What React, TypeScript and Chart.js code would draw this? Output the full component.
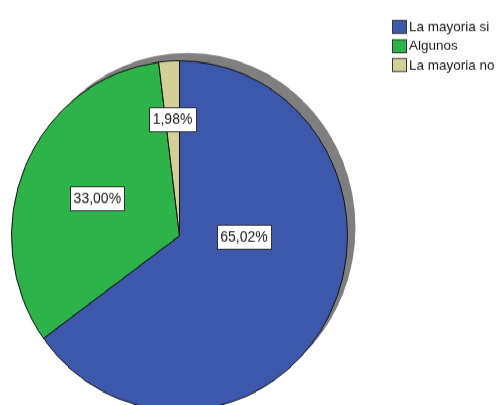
import { useEffect, useRef } from "react";
import { Chart, registerables } from "chart.js";

Chart.register(...registerables);

const categories = ["La mayoria si", "Algunos", "La mayoria no"];
const percentages = [65.02, 33.0, 1.98];
const sliceColors = ["#3d58ab", "#2db34a", "#d4ce97"];
// label placement: angle shift (deg) from slice middle, radius fraction
const labelAngleShift = [-26, 0, 0];
const labelRadius = [0.384, 0.533, 0.668];

const W = 499;
const H = 389;
const STRETCH = 405 / H;
const FONT = '"Liberation Sans", Arial, sans-serif';

export default function App() {
  const ref = useRef<HTMLCanvasElement>(null);

  useEffect(() => {
    if (!ref.current) return;

    const shadowPlugin = {
      id: "pieShadow",
      beforeDatasetsDraw(chart: any) {
        const arc = chart.getDatasetMeta(0).data[0];
        if (!arc) return;
        const { x, y, outerRadius } = arc.getProps(["x", "y", "outerRadius"], true);
        const ctx = chart.ctx;
        ctx.save();
        ctx.fillStyle = "#7f7f7f";
        ctx.filter = "blur(0.7px)";
        ctx.beginPath();
        ctx.arc(x + 8, y - 7.7, outerRadius, 0, Math.PI * 2);
        ctx.fill();
        ctx.restore();
      },
    };

    const labelPlugin = {
      id: "pieLabels",
      afterDatasetsDraw(chart: any) {
        const ctx = chart.ctx;
        const meta = chart.getDatasetMeta(0);
        ctx.save();
        ctx.font = `14px ${FONT}`;
        ctx.textAlign = "center";
        ctx.textBaseline = "middle";
        meta.data.forEach((arc: any, i: number) => {
          const { x, y, startAngle, endAngle, outerRadius } = arc.getProps(
            ["x", "y", "startAngle", "endAngle", "outerRadius"],
            true
          );
          const mid = (startAngle + endAngle) / 2 + (labelAngleShift[i] * Math.PI) / 180;
          const r = outerRadius * labelRadius[i];
          const lx = x + Math.cos(mid) * r;
          const ly = y + Math.sin(mid) * r;
          const text = percentages[i].toFixed(2).replace(".", ",") + "%";
          const tw = ctx.measureText(text).width;
          const bw = Math.round(tw + 7);
          const bh = 23;
          const bx = Math.round(lx - bw / 2) + 0.5;
          const by = Math.round(ly - bh / 2) + 0.5;
          ctx.fillStyle = "#ffffff";
          ctx.fillRect(bx, by, bw, bh);
          ctx.strokeStyle = "#333333";
          ctx.lineWidth = 1;
          ctx.strokeRect(bx, by, bw, bh);
          ctx.fillStyle = "#1a1a1a";
          ctx.fillText(text, lx, ly + 0.5);
        });
        ctx.restore();
      },
    };

    const legendPlugin = {
      id: "sideLegend",
      afterDraw(chart: any) {
        const ctx = chart.ctx;
        ctx.save();
        ctx.font = `13.5px ${FONT}`;
        ctx.textAlign = "left";
        ctx.textBaseline = "middle";
        const x0 = 392;
        const y0 = 19.2;
        const step = 18.3;
        categories.forEach((c, i) => {
          const top = y0 + i * step;
          ctx.fillStyle = sliceColors[i];
          ctx.fillRect(x0 + 0.5, top + 0.5, 14, 12.5);
          ctx.strokeStyle = "#333333";
          ctx.lineWidth = 1;
          ctx.strokeRect(x0 + 0.5, top + 0.5, 14, 12.5);
          ctx.fillStyle = "#1a1a1a";
          ctx.fillText(c, x0 + 17, top + 7.2);
        });
        ctx.restore();
      },
    };

    const chart = new Chart(ref.current, {
      type: "pie",
      data: {
        labels: categories,
        datasets: [
          {
            data: percentages,
            backgroundColor: sliceColors,
            borderColor: "#111111",
            borderWidth: 1,
          },
        ],
      },
      options: {
        responsive: false,
        animation: false,
        devicePixelRatio: 1,
        radius: 168,
        layout: { padding: { left: 11, right: 151, top: 64, bottom: 0 } },
        plugins: {
          legend: { display: false },
          tooltip: { enabled: false },
          title: { display: false },
        },
      } as any,
      plugins: [shadowPlugin, labelPlugin, legendPlugin],
    });
    return () => chart.destroy();
  }, []);

  return (
    <div
      style={{
        position: "fixed",
        left: 0,
        top: 0,
        width: W,
        height: H,
        background: "#ffffff",
        transform: `scaleY(${STRETCH})`,
        transformOrigin: "0 0",
      }}
    >
      <canvas ref={ref} width={W} height={H} style={{ display: "block" }} />
    </div>
  );
}
